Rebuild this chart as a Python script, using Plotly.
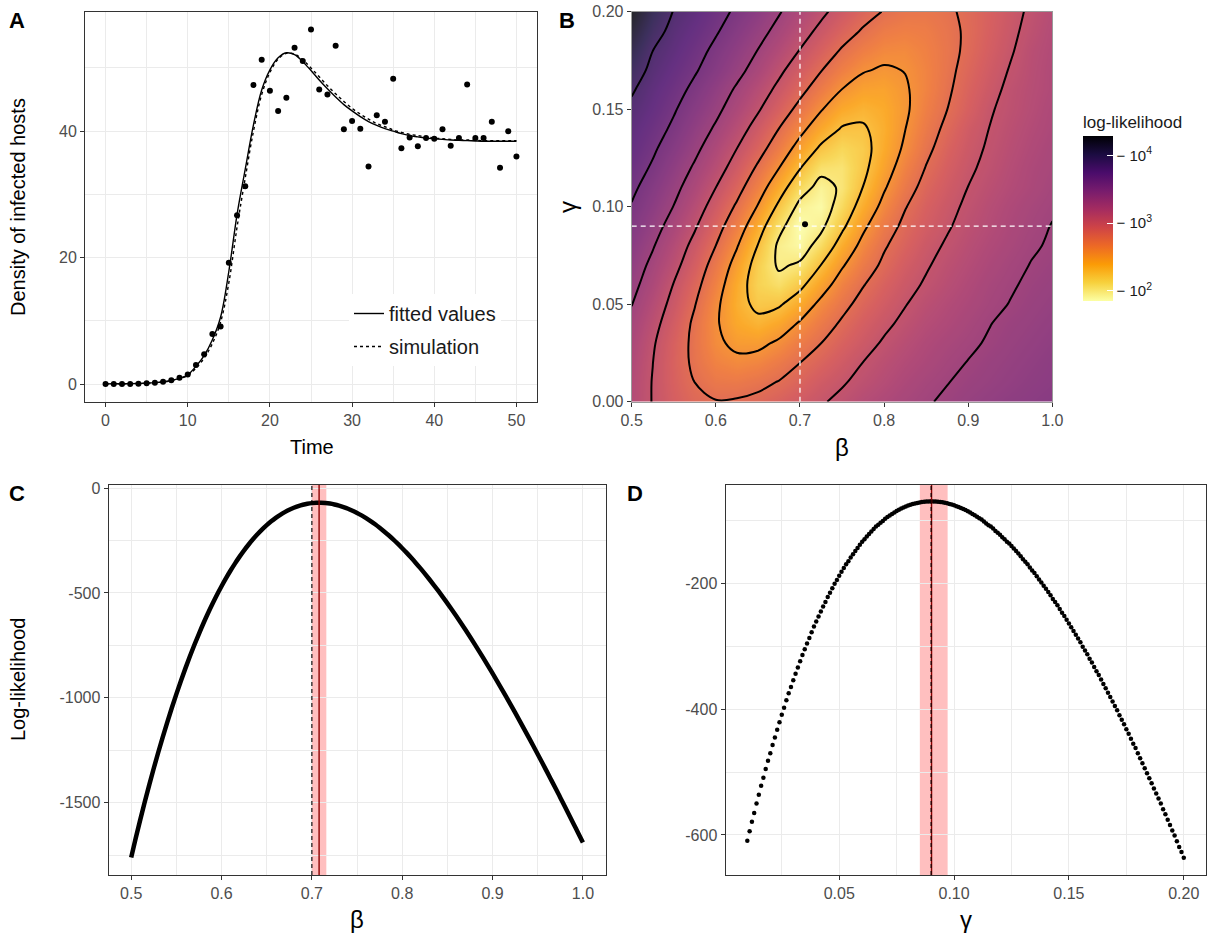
import plotly.graph_objects as go

W, H = 1208, 933
FONT = "Liberation Sans, Arial, Helvetica, sans-serif"
TICK = "#4D4D4D"
GRID = "#EBEBEB"
BORDER = "#333333"

def fx(p):
    return p / W

def fy(p):
    return 1 - p / H

# ---------------- Panel A: epidemic time series ----------------
time = list(range(51))
observed = [0, 0, 0, 0, 0.05, 0.1, 0.2, 0.35, 0.6, 1.0, 1.5,
            3.0, 4.7, 7.9, 9.1, 19.2, 26.7, 31.3, 47.3, 51.3, 46.4,
            43.2, 45.3, 53.2, 51.1, 56.1, 46.6, 45.8, 53.5, 40.3, 41.6,
            40.4, 34.4, 42.5, 41.5, 48.3, 37.3, 39.0, 37.6, 38.9, 38.8,
            40.3, 37.7, 38.9, 47.4, 38.9, 38.9, 41.5, 34.2, 40.0, 36.0]
fitted = [0.02, 0.03, 0.04, 0.06, 0.09, 0.14, 0.22, 0.35, 0.56, 0.9, 1.45,
          2.8, 4.5, 7.0, 10.6, 17.8, 26.8, 34.0, 41.0, 46.5, 49.7,
          51.6, 52.4, 52.1, 51.0, 49.6, 48.1, 46.7, 45.4, 44.2, 43.2,
          42.3, 41.5, 40.9, 40.4, 40.0, 39.6, 39.3, 39.1, 38.9, 38.8,
          38.7, 38.6, 38.55, 38.5, 38.45, 38.4, 38.4, 38.4, 38.4, 38.4]
simulation = [0.02, 0.03, 0.04, 0.06, 0.08, 0.13, 0.2, 0.32, 0.52, 0.85, 1.35,
              2.5, 4.1, 6.4, 9.8, 16.0, 24.8, 32.6, 40.0, 45.8, 49.3,
              51.4, 52.3, 52.2, 51.3, 50.0, 48.6, 47.2, 45.9, 44.7, 43.6,
              42.7, 41.9, 41.2, 40.7, 40.2, 39.8, 39.5, 39.3, 39.1, 38.9,
              38.8, 38.7, 38.6, 38.6, 38.55, 38.5, 38.5, 38.5, 38.5, 38.5]

# ---------------- Panel B: log10(-log-likelihood) surface ----------------
beta_grid = [0.5, 0.525, 0.55, 0.575, 0.6, 0.625, 0.65, 0.675, 0.7, 0.725, 0.75,
             0.775, 0.8, 0.825, 0.85, 0.875, 0.9, 0.925, 0.95, 0.975, 1.0]
gamma_grid = [0.0, 0.01, 0.02, 0.03, 0.04, 0.05, 0.06, 0.07, 0.08, 0.09, 0.1,
              0.11, 0.12, 0.13, 0.14, 0.15, 0.16, 0.17, 0.18, 0.19, 0.2]
# one row per gamma value (bottom to top), one column per beta value
log10_neg_loglik = [
    [3.19, 3.06, 2.94, 2.85, 2.81, 2.82, 2.85, 2.91, 2.98, 3.05, 3.11, 3.18, 3.23, 3.28, 3.32, 3.36, 3.40, 3.43, 3.46, 3.48, 3.50],
    [3.20, 3.06, 2.92, 2.80, 2.72, 2.71, 2.75, 2.81, 2.89, 2.98, 3.05, 3.12, 3.18, 3.24, 3.29, 3.33, 3.37, 3.40, 3.43, 3.46, 3.48],
    [3.22, 3.07, 2.91, 2.76, 2.64, 2.59, 2.62, 2.70, 2.80, 2.89, 2.98, 3.07, 3.14, 3.20, 3.25, 3.30, 3.34, 3.38, 3.41, 3.44, 3.47],
    [3.25, 3.09, 2.92, 2.75, 2.58, 2.48, 2.48, 2.57, 2.69, 2.80, 2.91, 3.00, 3.09, 3.16, 3.22, 3.27, 3.31, 3.35, 3.39, 3.42, 3.45],
    [3.29, 3.13, 2.96, 2.76, 2.56, 2.40, 2.33, 2.41, 2.56, 2.70, 2.83, 2.94, 3.03, 3.11, 3.18, 3.23, 3.28, 3.33, 3.37, 3.40, 3.43],
    [3.34, 3.18, 3.01, 2.81, 2.58, 2.36, 2.21, 2.24, 2.39, 2.59, 2.74, 2.87, 2.97, 3.06, 3.14, 3.20, 3.25, 3.30, 3.34, 3.38, 3.41],
    [3.39, 3.24, 3.06, 2.87, 2.64, 2.38, 2.15, 2.07, 2.21, 2.43, 2.64, 2.79, 2.91, 3.01, 3.09, 3.16, 3.22, 3.28, 3.32, 3.36, 3.39],
    [3.44, 3.29, 3.13, 2.94, 2.71, 2.45, 2.17, 1.97, 2.03, 2.27, 2.51, 2.70, 2.84, 2.96, 3.05, 3.13, 3.19, 3.25, 3.30, 3.34, 3.37],
    [3.49, 3.35, 3.19, 3.01, 2.80, 2.55, 2.26, 1.96, 1.89, 2.09, 2.37, 2.60, 2.78, 2.90, 3.01, 3.09, 3.16, 3.22, 3.27, 3.32, 3.35],
    [3.54, 3.41, 3.26, 3.09, 2.89, 2.66, 2.38, 2.06, 1.85, 1.95, 2.22, 2.49, 2.70, 2.85, 2.96, 3.05, 3.13, 3.19, 3.25, 3.30, 3.34],
    [3.59, 3.47, 3.33, 3.17, 2.98, 2.77, 2.52, 2.22, 1.94, 1.88, 2.10, 2.37, 2.60, 2.79, 2.92, 3.02, 3.10, 3.17, 3.23, 3.28, 3.32],
    [3.64, 3.52, 3.39, 3.24, 3.07, 2.88, 2.65, 2.38, 2.10, 1.93, 2.03, 2.27, 2.51, 2.71, 2.87, 2.98, 3.07, 3.14, 3.20, 3.25, 3.30],
    [3.69, 3.58, 3.45, 3.31, 3.16, 2.98, 2.77, 2.54, 2.28, 2.06, 2.04, 2.21, 2.43, 2.64, 2.81, 2.94, 3.04, 3.11, 3.18, 3.24, 3.28],
    [3.74, 3.63, 3.51, 3.38, 3.23, 3.07, 2.89, 2.68, 2.45, 2.23, 2.12, 2.19, 2.38, 2.57, 2.75, 2.90, 3.01, 3.09, 3.16, 3.22, 3.27],
    [3.78, 3.68, 3.57, 3.44, 3.31, 3.16, 2.99, 2.80, 2.60, 2.40, 2.25, 2.24, 2.36, 2.53, 2.70, 2.85, 2.98, 3.07, 3.14, 3.20, 3.25],
    [3.83, 3.73, 3.62, 3.50, 3.38, 3.24, 3.09, 2.92, 2.74, 2.55, 2.39, 2.33, 2.38, 2.50, 2.66, 2.80, 2.93, 3.05, 3.12, 3.18, 3.24],
    [3.89, 3.77, 3.67, 3.56, 3.44, 3.31, 3.17, 3.02, 2.86, 2.69, 2.53, 2.44, 2.43, 2.51, 2.63, 2.77, 2.90, 3.01, 3.11, 3.17, 3.22],
    [3.97, 3.82, 3.72, 3.62, 3.51, 3.39, 3.26, 3.11, 2.96, 2.81, 2.66, 2.55, 2.51, 2.54, 2.63, 2.75, 2.87, 2.98, 3.08, 3.16, 3.22],
    [4.07, 3.87, 3.77, 3.67, 3.56, 3.45, 3.33, 3.20, 3.06, 2.92, 2.78, 2.67, 2.60, 2.59, 2.65, 2.74, 2.84, 2.95, 3.05, 3.15, 3.21],
    [4.17, 3.95, 3.81, 3.72, 3.62, 3.51, 3.40, 3.28, 3.15, 3.02, 2.89, 2.78, 2.69, 2.66, 2.68, 2.75, 2.83, 2.93, 3.03, 3.12, 3.20],
    [4.28, 4.03, 3.86, 3.77, 3.67, 3.57, 3.47, 3.35, 3.23, 3.11, 2.99, 2.88, 2.79, 2.74, 2.73, 2.77, 2.84, 2.92, 3.01, 3.10, 3.18],
]
mle_beta = [0.706]
mle_gamma = [0.091]
true_beta = 0.70
true_gamma = 0.09
contour_start, contour_end, contour_step = 2.0, 3.87, 0.267
color_min, color_max = 1.85, 4.285
cb_tickvals = [2, 3, 4]
cb_ticktext = ["\u2212 10<sup>2</sup>", "\u2212 10<sup>3</sup>", "\u2212 10<sup>4</sup>"]

# ---------------- Panel C: profile in beta ----------------
beta_profile = [round(0.5 + 0.005 * i, 3) for i in range(101)]
loglik_beta = [-1761.2, -1670.2, -1582.3, -1497.2, -1415.2, -1336.1, -1259.8, -1186.3, -1115.7, -1047.8,
               -982.4, -919.8, -859.8, -802.4, -747.4, -694.9, -644.8, -597.2, -551.9, -508.7,
               -468.1, -429.6, -393.3, -359.1, -327.0, -297.0, -269.2, -243.2, -219.3, -197.2,
               -177.1, -158.8, -142.3, -127.7, -114.7, -103.4, -93.9, -86.0, -79.7, -75.0,
               -71.9, -70.3, -70.1, -71.4, -74.1, -78.3, -83.7, -90.5, -98.6, -108.0,
               -118.6, -130.5, -143.5, -157.6, -172.9, -189.3, -206.8, -225.3, -244.8, -265.4,
               -286.9, -309.3, -332.7, -356.9, -382.0, -408.0, -434.8, -462.4, -490.7, -519.8,
               -549.7, -580.2, -611.5, -643.4, -676.0, -709.1, -742.9, -777.3, -812.2, -847.7,
               -883.8, -920.3, -957.4, -994.8, -1032.8, -1071.2, -1110.1, -1149.3, -1189.0, -1229.0,
               -1269.4, -1310.0, -1351.1, -1392.5, -1434.1, -1476.2, -1518.4, -1560.9, -1603.8, -1646.7,
               -1690.1]
beta_ci = [0.699, 0.716]
beta_hat = 0.708

# ---------------- Panel D: profile in gamma ----------------
gamma_profile = [round(0.01 + 0.001 * i, 3) for i in range(191)]
negll_gamma = [609, 594, 579, 565, 550, 536, 522, 509, 495, 482,
               470, 457, 445, 433, 421, 409, 398, 386, 375, 365,
               354, 344, 334, 324, 314, 305, 296, 287, 278, 269,
               261, 253, 245, 237, 230, 222, 215, 208, 201, 195,
               188, 182, 176, 170, 165, 159, 154, 149, 144, 139,
               134, 130, 126, 122, 118, 114, 110, 107, 104, 101,
               97.7, 95.0, 92.3, 89.9, 87.5, 85.4, 83.3, 81.5, 79.7, 78.2,
               76.7, 75.4, 74.3, 73.3, 72.4, 71.7, 71.1, 70.6, 70.3, 70.1,
               70.0,
               70.1, 70.3, 70.6, 71.0, 71.6, 72.3, 73.1, 74.1, 75.1, 76.3,
               77.6, 79.0, 80.5, 82.2, 83.9, 85.8, 87.8, 89.9, 92.1, 94.4,
               97, 99, 102, 105, 108, 110, 113, 117, 120, 123,
               127, 130, 134, 137, 141, 145, 149, 153, 157, 162,
               166, 170, 175, 180, 184, 189, 194, 199, 204, 209,
               214, 219, 225, 230, 235, 241, 247, 252, 258, 264,
               270, 276, 282, 288, 294, 301, 307, 313, 320, 326,
               333, 340, 346, 353, 360, 367, 374, 381, 388, 395,
               402, 410, 417, 424, 432, 439, 447, 455, 462, 470,
               478, 486, 494, 502, 510, 518, 526, 534, 542, 550,
               559, 567, 576, 584, 593, 601, 610, 619, 627, 636]
loglik_gamma = [-x for x in negll_gamma]
gamma_ci = [0.0851, 0.0972]
gamma_hat = 0.0902

# ---------------- Figure ----------------
fig = go.Figure()

# A
fig.add_trace(go.Scatter(x=time, y=observed, mode="markers", marker=dict(color="black", size=6),
                         showlegend=False, xaxis="x", yaxis="y", hoverinfo="skip"))
fig.add_trace(go.Scatter(x=time, y=fitted, mode="lines", line=dict(color="black", width=1.4, shape="spline"),
                         name="fitted values", legendgroup="a", xaxis="x", yaxis="y"))
fig.add_trace(go.Scatter(x=time, y=simulation, mode="lines",
                         line=dict(color="black", width=1.4, dash="dot", shape="spline"),
                         name="simulation", legendgroup="b", xaxis="x", yaxis="y"))

# B
fig.add_trace(go.Heatmap(x=beta_grid, y=gamma_grid, z=log10_neg_loglik, colorscale="Inferno_r", showlegend=False,
                         zmin=color_min, zmax=color_max, zsmooth="best", opacity=0.85,
                         xaxis="x2", yaxis="y2", hoverinfo="skip",
                         colorbar=dict(x=fx(1083), xanchor="left", y=fy(206.5), yanchor="middle",
                                       len=189 / H, lenmode="fraction", thickness=30, thicknessmode="pixels",
                                       outlinewidth=0, tickvals=cb_tickvals, ticktext=cb_ticktext,
                                       ticks="inside", ticklen=6, tickcolor="white", xpad=0, ypad=0,
                                       tickfont=dict(size=15, color="#1A1A1A", family=FONT),
                                       title=dict(text="log-likelihood", side="top",
                                                  font=dict(size=17, color="#1A1A1A", family=FONT)))))
fig.add_trace(go.Scatter(x=[true_beta, true_beta], y=[0, 0.2], mode="lines",
                         line=dict(color="white", width=1.3, dash="5px,4px"),
                         showlegend=False, xaxis="x2", yaxis="y2", hoverinfo="skip"))
fig.add_trace(go.Scatter(x=[0.5, 1.0], y=[true_gamma, true_gamma], mode="lines",
                         line=dict(color="white", width=1.3, dash="5px,4px"),
                         showlegend=False, xaxis="x2", yaxis="y2", hoverinfo="skip"))
fig.add_trace(go.Contour(x=beta_grid, y=gamma_grid, z=log10_neg_loglik, autocontour=False, showlegend=False,
                         contours=dict(start=contour_start, end=contour_end, size=contour_step, coloring="none"),
                         line=dict(color="black", width=2, smoothing=1.0), showscale=False,
                         xaxis="x2", yaxis="y2", hoverinfo="skip"))
fig.add_trace(go.Scatter(x=mle_beta, y=mle_gamma, mode="markers", marker=dict(color="black", size=6),
                         showlegend=False, xaxis="x2", yaxis="y2", hoverinfo="skip"))

# C
fig.add_trace(go.Scatter(x=beta_profile, y=loglik_beta, mode="lines",
                         line=dict(color="black", width=4.5, shape="spline"),
                         showlegend=False, xaxis="x3", yaxis="y3", hoverinfo="skip"))
# D
fig.add_trace(go.Scatter(x=gamma_profile, y=loglik_gamma, mode="markers", marker=dict(color="black", size=4.5),
                         showlegend=False, xaxis="x4", yaxis="y4", hoverinfo="skip"))

shapes = []
for xr, yr, ci, hat, tru in (("x3", "y3 domain", beta_ci, beta_hat, true_beta),
                             ("x4", "y4 domain", gamma_ci, gamma_hat, true_gamma)):
    shapes.append(dict(type="rect", xref=xr, yref=yr, x0=ci[0], x1=ci[1], y0=0, y1=1,
                       fillcolor="rgba(255,0,0,0.25)", line=dict(width=0), layer="below"))
    shapes.append(dict(type="line", xref=xr, yref=yr, x0=hat, x1=hat, y0=0, y1=1,
                       line=dict(color="#8B0000", width=1.4)))
    shapes.append(dict(type="line", xref=xr, yref=yr, x0=tru, x1=tru, y0=0, y1=1,
                       line=dict(color="black", width=1.1, dash="4px,3px")))


def ax(**kw):
    d = dict(showline=True, linecolor=BORDER, linewidth=1, mirror=True, ticks="outside", ticklen=4,
             tickwidth=1, tickcolor=BORDER, tickfont=dict(size=16, color=TICK, family=FONT),
             zeroline=False, showgrid=True, gridcolor=GRID, gridwidth=1.1, tickmode="array",
             automargin=False)
    d.update(kw)
    return d


def minor(vals):
    return dict(tickmode="array", tickvals=vals, showgrid=True, gridcolor=GRID, gridwidth=0.55, ticks="")


fig.update_layout(
    width=W, height=H, margin=dict(l=0, r=0, t=0, b=0, pad=0, autoexpand=False),
    paper_bgcolor="white", plot_bgcolor="white", font=dict(family=FONT, color="#1A1A1A"),
    showlegend=True,
    legend=dict(x=fx(349), y=fy(294), xanchor="left", yanchor="top", bgcolor="white",
                font=dict(size=20, family=FONT, color="#1A1A1A"), tracegroupgap=4, itemwidth=30),
    xaxis=ax(domain=[fx(85), fx(537)], range=[-2.5, 52.5], tickvals=[0, 10, 20, 30, 40, 50],
             minor=minor([5, 15, 25, 35, 45]), anchor="y"),
    yaxis=ax(domain=[fy(401.7), fy(11.7)], range=[-2.8, 58.9], tickvals=[0, 20, 40],
             minor=minor([10, 30, 50]), anchor="x"),
    xaxis2=ax(domain=[fx(631.7), fx(1052.4)], range=[0.5, 1.0], tickvals=[0.5, 0.6, 0.7, 0.8, 0.9, 1.0],
              ticktext=["0.5", "0.6", "0.7", "0.8", "0.9", "1.0"], showgrid=False, linecolor="#9A9A9A",
              anchor="y2"),
    yaxis2=ax(domain=[fy(401.67), fy(11.67)], range=[0, 0.2], tickvals=[0, 0.05, 0.1, 0.15, 0.2],
              ticktext=["0.00", "0.05", "0.10", "0.15", "0.20"], showgrid=False, linecolor="#9A9A9A",
              anchor="x2"),
    xaxis3=ax(domain=[fx(108.6), fx(605.5)], range=[0.475, 1.025], tickvals=[0.5, 0.6, 0.7, 0.8, 0.9, 1.0],
              ticktext=["0.5", "0.6", "0.7", "0.8", "0.9", "1.0"],
              minor=minor([0.55, 0.65, 0.75, 0.85, 0.95]), anchor="y3"),
    yaxis3=ax(domain=[fy(875), fy(485)], range=[-1845, 14.5], tickvals=[0, -500, -1000, -1500],
              ticktext=["0", "-500", "-1000", "-1500"], minor=minor([-250, -750, -1250, -1750]), anchor="x3"),
    xaxis4=ax(domain=[fx(725.5), fx(1205.6)], range=[0.0005, 0.2095], tickvals=[0.05, 0.1, 0.15, 0.2],
              ticktext=["0.05", "0.10", "0.15", "0.20"], minor=minor([0.025, 0.075, 0.125, 0.175]), anchor="y4"),
    yaxis4=ax(domain=[fy(875), fy(485)], range=[-663.6, -44], tickvals=[-200, -400, -600],
              ticktext=["-200", "-400", "-600"], minor=minor([-100, -300, -500]), anchor="x4"),
    shapes=shapes,
)

annots = [
    ("Time", 312, 447, 20, 0), ("Density of infected hosts", 18, 207, 20, -90),
    ("\u03b2", 842, 447, 24, 0), ("\u03b3", 567, 207, 24, -90),
    ("\u03b2", 357, 919, 24, 0), ("\u03b3", 965.5, 919, 24, 0),
    ("Log-likelihood", 18, 680, 20, -90),
    ("<b>A</b>", 17, 20, 22, 0), ("<b>B</b>", 567, 20, 22, 0),
    ("<b>C</b>", 17, 493, 22, 0), ("<b>D</b>", 635, 493, 22, 0),
]
for text, x, y, size, ang in annots:
    fig.add_annotation(text=text, x=fx(x), y=fy(y), xref="paper", yref="paper", showarrow=False,
                       xanchor="center", yanchor="middle", textangle=ang,
                       font=dict(size=size, family=FONT, color="black"))

fig.write_html("out.html", config={"displayModeBar": False},
               post_script="document.body.style.margin='0';document.body.style.overflow='hidden';")
